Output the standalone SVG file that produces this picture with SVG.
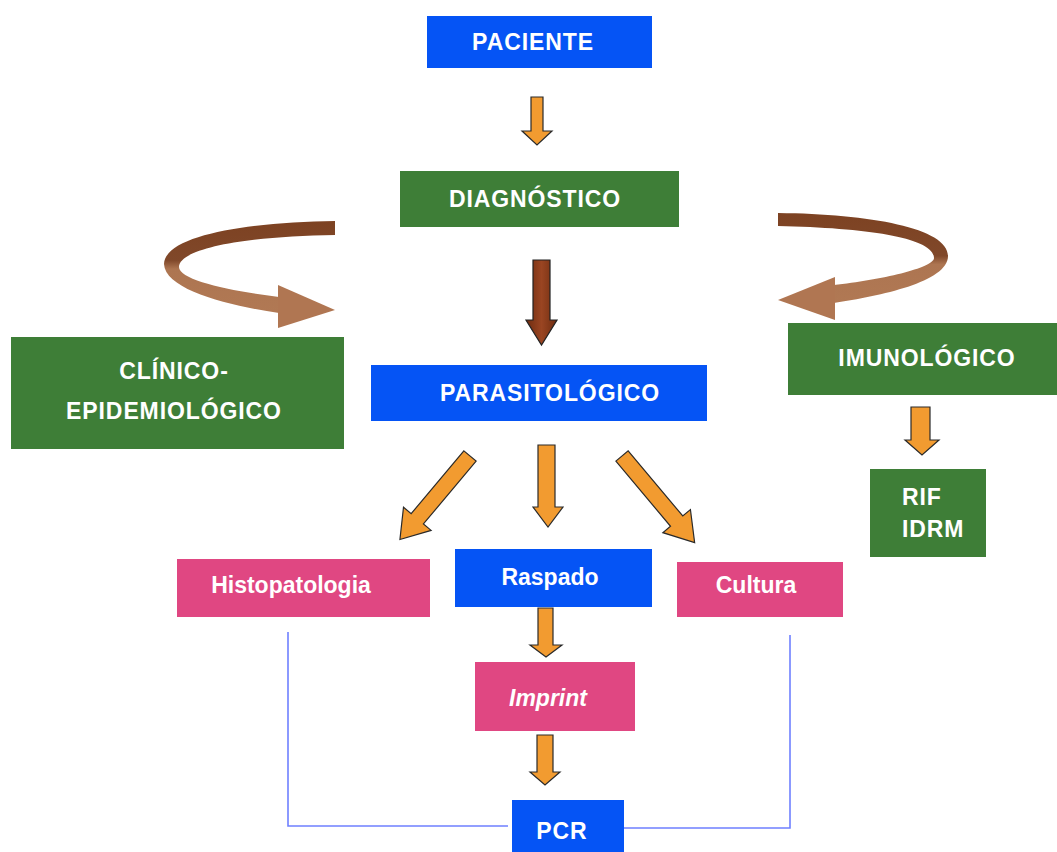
<svg xmlns="http://www.w3.org/2000/svg" width="1057" height="852" viewBox="0 0 1057 852">
<defs>
<style>
.t{font-family:"Liberation Sans",Arial,sans-serif;font-weight:bold;font-size:23px;fill:#fff;text-anchor:middle}
.c{letter-spacing:0.9px}
.blue{fill:#0554f5}
.green{fill:#3e7e37}
.pink{fill:#e04782}
.oa{fill:#f29b30;stroke:#2a2a2a;stroke-width:1.2;stroke-linejoin:miter}
.ln{fill:none;stroke:#6f80ff;stroke-width:1.6}
</style>
<linearGradient id="brownArrow" x1="0" y1="0" x2="1" y2="0">
<stop offset="0" stop-color="#6e2c10"/>
<stop offset="0.5" stop-color="#9a4522"/>
<stop offset="1" stop-color="#6e2c10"/>
</linearGradient>
<linearGradient id="ribL" gradientUnits="userSpaceOnUse" x1="0" y1="221" x2="0" y2="330">
<stop offset="0" stop-color="#7d4222"/>
<stop offset="0.36" stop-color="#80482a"/>
<stop offset="0.44" stop-color="#ad7551"/>
<stop offset="1" stop-color="#b27a55"/>
</linearGradient>
<linearGradient id="ribR" gradientUnits="userSpaceOnUse" x1="0" y1="213" x2="0" y2="320">
<stop offset="0" stop-color="#7d4222"/>
<stop offset="0.4" stop-color="#80482a"/>
<stop offset="0.48" stop-color="#ad7551"/>
<stop offset="1" stop-color="#b27a55"/>
</linearGradient>
</defs>
<rect width="1057" height="852" fill="#fff"/>

<g id="connectors">
<polygon class="oa" points="531,97 543,97 543,131 552,131 537,145 522,131 531,131"/>
<polygon fill="url(#brownArrow)" stroke="#222" stroke-width="1.2" points="533,260 550,260 550,320 557,320 541.5,345 526,320 533,320"/>
<path fill="url(#ribL)" d="M335,221 C250,222 165,235 164,264 C165,290 230,306 279,313 L279,297 C230,291 179,280 179,267 C179,248 250,236 335,235 Z"/>
<polygon fill="#b07652" points="278,285 335,310 278,328"/>
<path fill="url(#ribR)" d="M778,213 C870,214 948,228 948,256 C948,282 880,296 834,303 L834,285 C880,280 934,268 934,258 C934,238 870,228 778,226 Z"/>
<polygon fill="#b07652" points="835,277 778,300 835,320"/>
<polygon class="oa" points="911,407 930,407 930,440 939,440 922,455 905,440 911,440"/>
<g transform="translate(470,456) rotate(40)"><polygon class="oa" points="-8,0 8,0 8,82 18,82 0,109 -18,82 -8,82"/></g>
<polygon class="oa" points="538,445 555,445 555,507 563,507 548,527 533,507 538,507"/>
<g transform="translate(622,456) rotate(-40)"><polygon class="oa" points="-8,0 8,0 8,85 18,85 0,113 -18,85 -8,85"/></g>
<polygon class="oa" points="538,608 553,608 553,645 562,645 546,657 530,645 538,645"/>
<polygon class="oa" points="537,735 553,735 553,772 560,772 545,785 530,772 537,772"/>
<path class="ln" d="M288,632 V826 H508"/>
<path class="ln" d="M624,828 H790 V635"/>
</g>

<g id="paciente"><rect class="blue" x="427" y="16" width="225" height="52"/><text class="t c" x="533" y="50">PACIENTE</text></g>
<g id="diagnostico"><rect class="green" x="400" y="171" width="279" height="56"/><text class="t c" x="535" y="207">DIAGNÓSTICO</text></g>
<g id="clinico"><rect class="green" x="11" y="337" width="333" height="112"/><text class="t c" x="174" y="379">CLÍNICO-</text><text class="t c" x="174" y="419">EPIDEMIOLÓGICO</text></g>
<g id="parasitologico"><rect class="blue" x="371" y="365" width="336" height="56"/><text class="t c" x="550" y="401">PARASITOLÓGICO</text></g>
<g id="imunologico"><rect class="green" x="788" y="323" width="269" height="72"/><text class="t c" x="927" y="366">IMUNOLÓGICO</text></g>
<g id="rif"><rect class="green" x="870" y="469" width="116" height="88"/><text class="t c" x="902" y="505" style="text-anchor:start">RIF</text><text class="t c" x="902" y="537" style="text-anchor:start">IDRM</text></g>
<g id="histopatologia"><rect class="pink" x="177" y="559" width="253" height="58"/><text class="t" x="291" y="593">Histopatologia</text></g>
<g id="raspado"><rect class="blue" x="455" y="549" width="197" height="58"/><text class="t" x="550" y="585">Raspado</text></g>
<g id="cultura"><rect class="pink" x="677" y="562" width="166" height="55"/><text class="t" x="756" y="593">Cultura</text></g>
<g id="imprint"><rect class="pink" x="475" y="662" width="160" height="69"/><text class="t" x="548" y="706" style="font-style:italic">Imprint</text></g>
<g id="pcr"><rect class="blue" x="512" y="800" width="112" height="52"/><text class="t c" x="562" y="839">PCR</text></g>
</svg>
